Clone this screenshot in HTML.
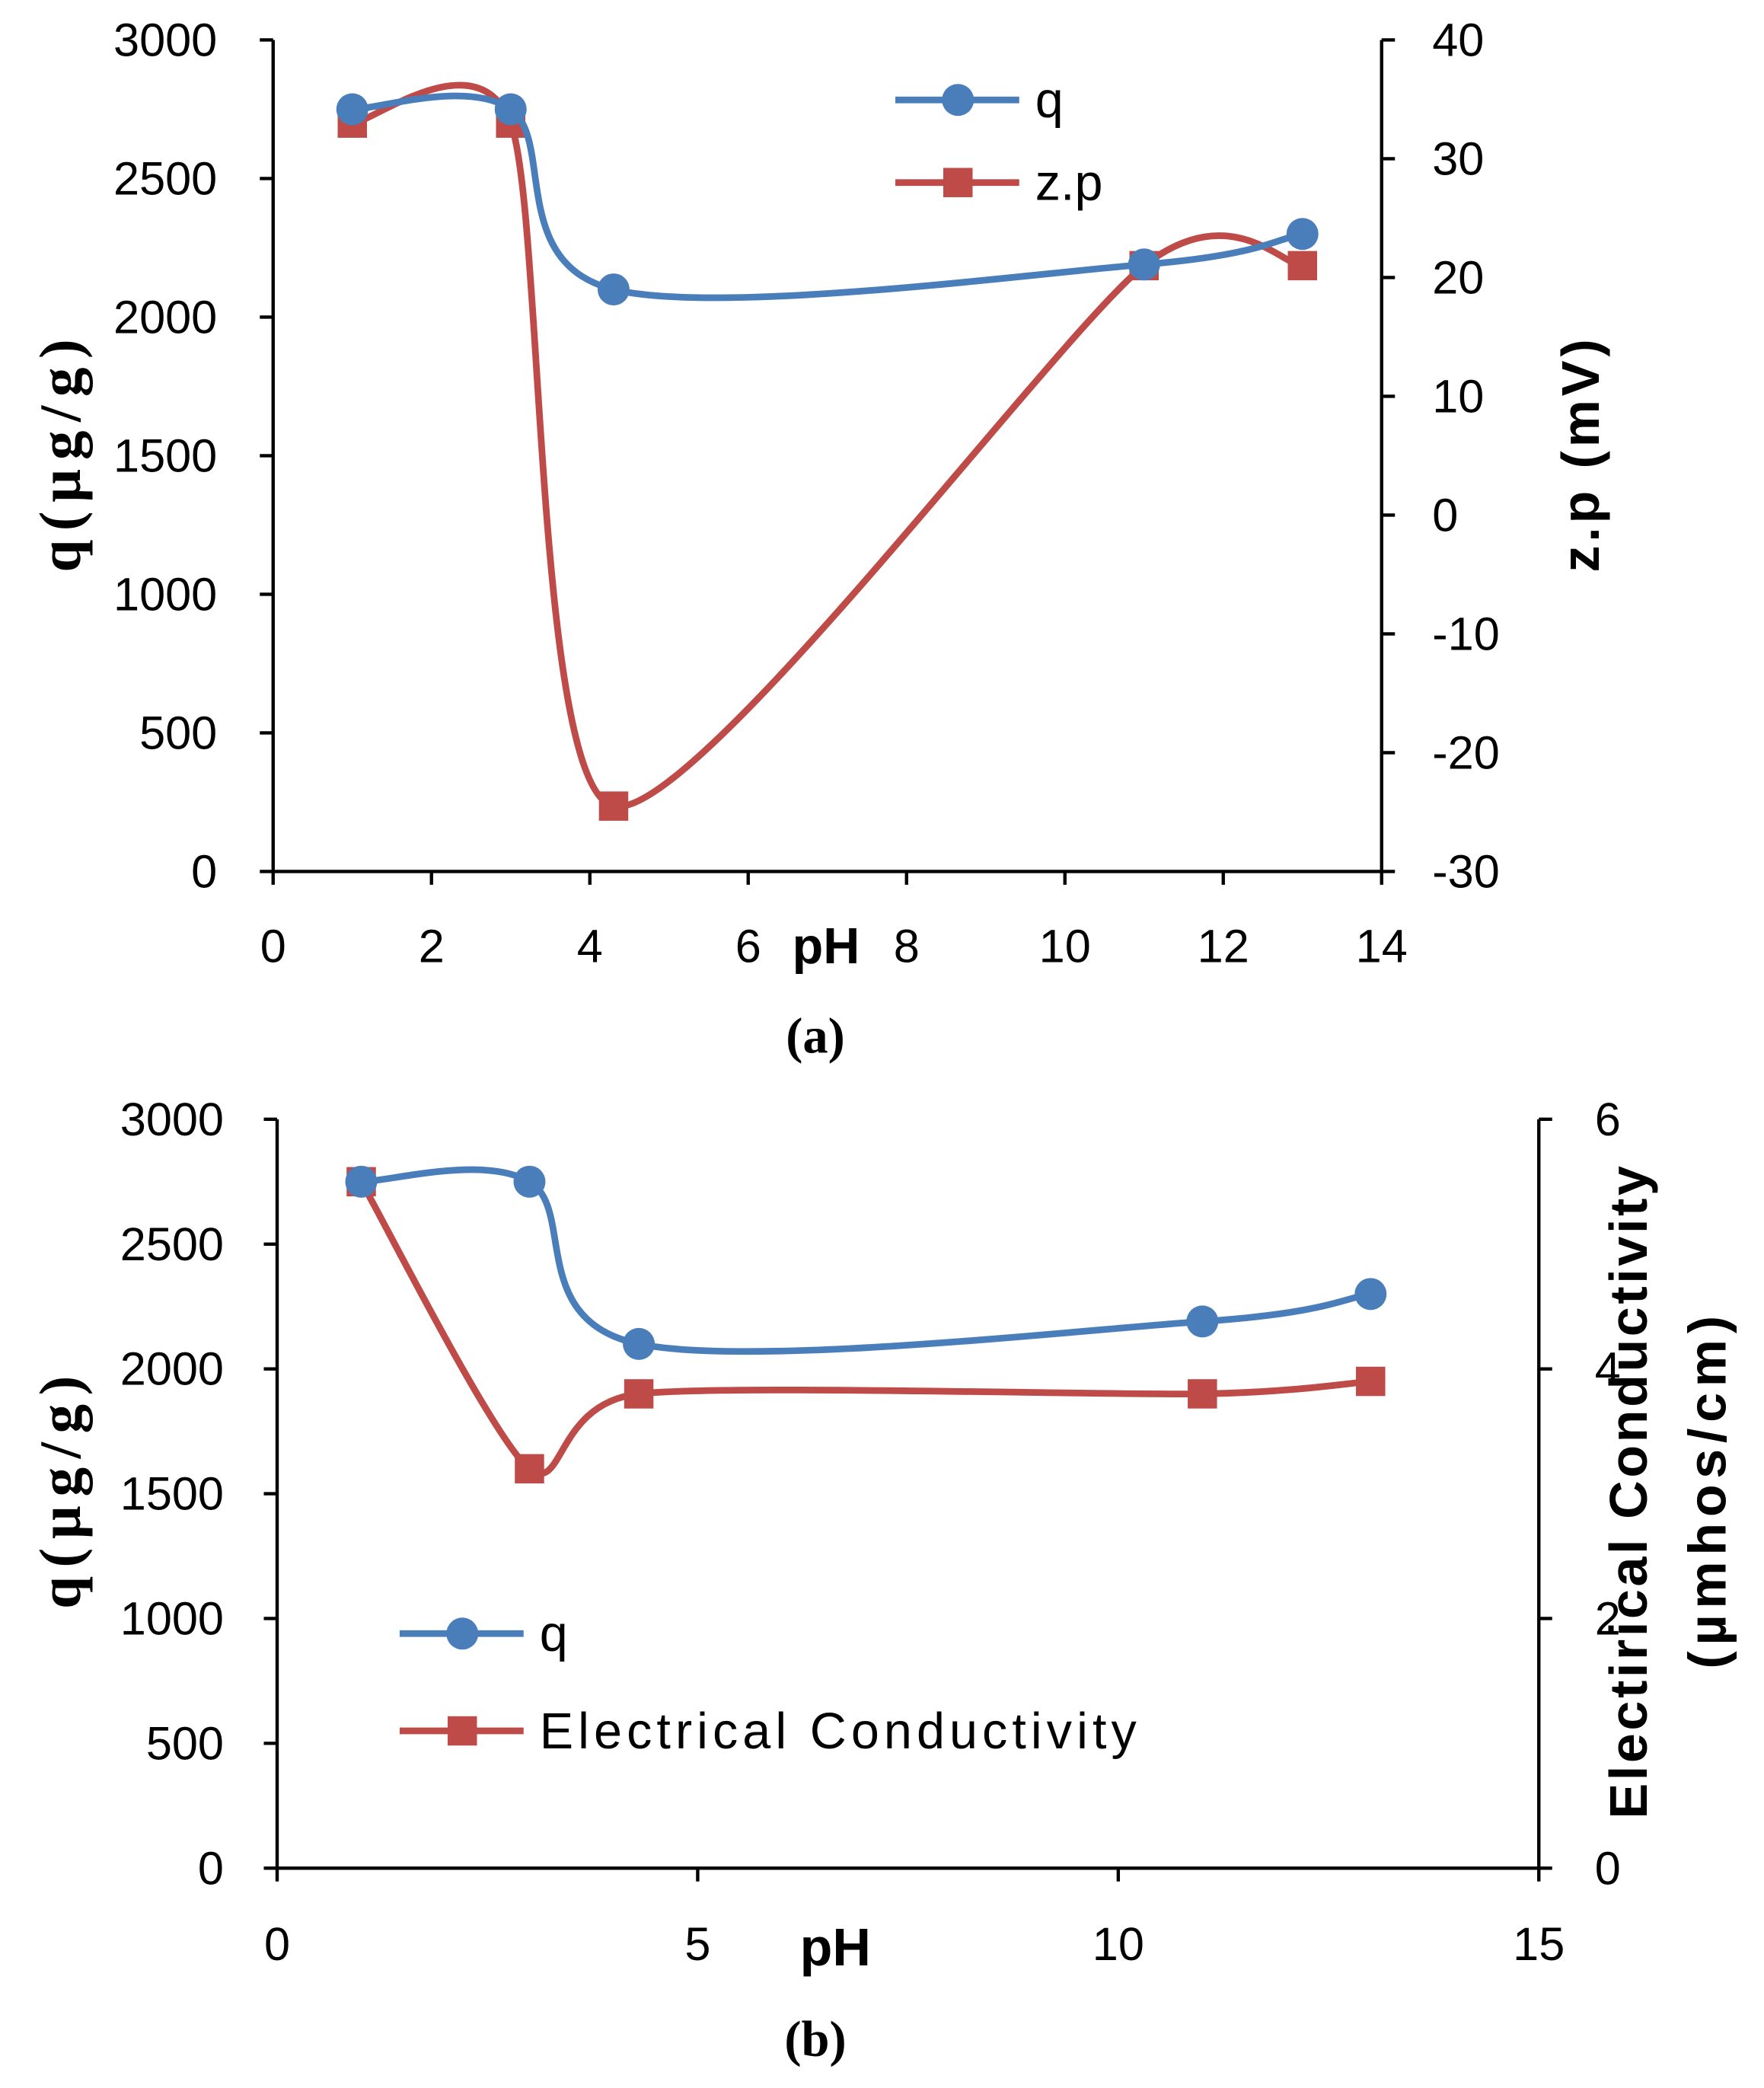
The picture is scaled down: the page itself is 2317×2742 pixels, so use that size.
<!DOCTYPE html>
<html><head><meta charset="utf-8"><style>
html,body{margin:0;padding:0;background:#fff;}
svg{display:block;}
text{font-family:"Liberation Sans",sans-serif;fill:#000;}
</style></head><body>
<svg id="c" width="2317" height="2742" viewBox="0 0 1324 1567" preserveAspectRatio="none" xmlns="http://www.w3.org/2000/svg"></svg>
<script>
const pH = [1, 3, 4.3, 11, 13];
const qVals = [2750, 2750, 2100, 2190, 2300];
const zpVals = [33, 33, -24.5, 21, 21];
const ecVals = [5.5, 3.2, 3.8, 3.8, 3.9];
const xTicksA = [0, 2, 4, 6, 8, 10, 12, 14];
const yTicksL = [0, 500, 1000, 1500, 2000, 2500, 3000];
const yTicksRA = [-30, -20, -10, 0, 10, 20, 30, 40];
const xTicksB = [0, 5, 10, 15];
const yTicksRB = [0, 2, 4, 6];

const svg = document.getElementById('c');
const NS = 'http://www.w3.org/2000/svg';
function el(tag, attrs, parent){ const e=document.createElementNS(NS,tag); for(const k in attrs) e.setAttribute(k,attrs[k]); (parent||svg).appendChild(e); return e; }
function lin(d0,d1,r0,r1){ return v=>r0+(v-d0)/(d1-d0)*(r1-r0); }
function smooth(pts,k){
  let d='M'+pts[0][0]+','+pts[0][1];
  for(let i=0;i<pts.length-1;i++){
    const p0=pts[Math.max(0,i-1)],p1=pts[i],p2=pts[i+1],p3=pts[Math.min(pts.length-1,i+2)];
    const c1=[p1[0]+(p2[0]-p0[0])*k,p1[1]+(p2[1]-p0[1])*k];
    const c2=[p2[0]-(p3[0]-p1[0])*k,p2[1]-(p3[1]-p1[1])*k];
    d+=' C'+c1+' '+c2+' '+p2;
  }
  return d;
}
const BLUE='#4a7ebb', RED='#be4b48';
const SERIF='font-family:"Liberation Serif",serif;';
function txt(s,x,y,size,anchor,extra,name){
  const t=el('text',Object.assign({x:x,y:y,'font-size':size,'text-anchor':anchor||'middle'},extra||{}));
  t.textContent=s;
  
  
  return t;
}
function marker(type,x,y,color,name){
  let m;
  if(type==='c') m=el('circle',{cx:x,cy:y,r:12,fill:color});
  else m=el('rect',{x:x-11,y:y-11,width:22,height:22,fill:color});
  
  
}
function series(xs,ys,X,Y,color,type,name,k){
  const pts=xs.map((v,i)=>[X(v),Y(ys[i])]);
  const p=el('path',{d:smooth(pts,k),fill:'none',stroke:color,'stroke-width':5});
  
  
  pts.forEach(q=>marker(type,q[0],q[1],color,name+'-point'));
}
function axisLine(x1,y1,x2,y2,name){
  const l=el('line',{x1:x1,y1:y1,x2:x2,y2:y2,stroke:'#000','stroke-width':2.5});
  
  
}
function legend(x,y,color,type,label,name,len){
  const l=el('line',{x1:x,y1:y,x2:x+93,y2:y,stroke:color,'stroke-width':5});
  
  
  marker(type,x+47,y,color,name+'-marker');
  const ex={}; if(len) ex.textLength=len;
  txt(label,x+105,y+13,38,'start',ex,name+'-label');
}
const TF=35;

// ---------- Chart A ----------
{
  const X=lin(0,14,205,1037), Y=lin(0,3000,654,30), YR=lin(-30,40,654,30);
  axisLine(205,30,205,654,'y-axis-left-a');
  axisLine(1037,30,1037,654,'y-axis-right-a');
  axisLine(205,654,1037,654,'x-axis-a');
  xTicksA.forEach(v=>{axisLine(X(v),654,X(v),664,'x-tick-a');txt(String(v),X(v),722,TF,'middle',{},'x-tick-label-a');});
  yTicksL.forEach(v=>{axisLine(195,Y(v),205,Y(v),'y-tick-a');txt(String(v),163,Y(v)+12,TF,'end',{},'y-tick-label-a');});
  yTicksRA.forEach(v=>{axisLine(1037,YR(v),1047,YR(v),'y-right-tick-a');txt(String(v),1075,YR(v)+12,TF,'start',{},'y-right-tick-label-a');});
  txt('pH',620,723,38,'middle',{'font-weight':'bold'},'x-axis-title-a');
  txt('q(µg/g)',0,0,44,'middle',{'font-weight':'bold',style:SERIF,textLength:175,transform:'translate(60,342) rotate(-90)'},'y-axis-title-a');
  txt('z.p (mV)',0,0,40,'middle',{'font-weight':'bold',textLength:175,transform:'translate(1200,342) rotate(-90)'},'y-right-axis-title-a');
  txt('(a)',612,790,38,'middle',{style:SERIF,'font-weight':'bold'},'caption-a');
  series(pH,zpVals,X,YR,RED,'s','zp-series',1/8);
  series(pH,qVals,X,Y,BLUE,'c','q-series-a',1/6);
  legend(672,75,BLUE,'c','q','legend-q-a');
  legend(672,137,RED,'s','z.p','legend-zp');
}
// ---------- Chart B ----------
{
  const X=lin(0,15,208,1155), Y=lin(0,3000,1402,840), YR=lin(0,6,1402,840);
  axisLine(208,840,208,1402,'y-axis-left-b');
  axisLine(1155,840,1155,1402,'y-axis-right-b');
  axisLine(208,1402,1155,1402,'x-axis-b');
  xTicksB.forEach(v=>{axisLine(X(v),1402,X(v),1412,'x-tick-b');txt(String(v),X(v),1471,TF,'middle',{},'x-tick-label-b');});
  yTicksL.forEach(v=>{axisLine(198,Y(v),208,Y(v),'y-tick-b');txt(String(v),168,Y(v)+12,TF,'end',{},'y-tick-label-b');});
  yTicksRB.forEach(v=>{axisLine(1155,YR(v),1165,YR(v),'y-right-tick-b');txt(String(v),1197,YR(v)+12,TF,'start',{},'y-right-tick-label-b');});
  txt('pH',627,1475,40,'middle',{'font-weight':'bold'},'x-axis-title-b');
  txt('q(µg/g)',0,0,44,'middle',{'font-weight':'bold',style:SERIF,textLength:175,transform:'translate(60,1120) rotate(-90)'},'y-axis-title-b');
  txt('Electirical Conductivity',0,0,40,'middle',{'font-weight':'bold',textLength:490,transform:'translate(1236,1120) rotate(-90)'},'y-right-axis-title-b');
  txt('(µmhos/cm)',0,0,40,'middle',{'font-weight':'bold',textLength:265,transform:'translate(1295,1120) rotate(-90)'},'y-right-axis-unit-b');
  txt('(b)',612,1543,38,'middle',{style:SERIF,'font-weight':'bold'},'caption-b');
  series(pH,ecVals,X,YR,RED,'s','ec-series',1/8);
  series(pH,qVals,X,Y,BLUE,'c','q-series-b',1/6);
  legend(300,1226,BLUE,'c','q','legend-q-b');
  legend(300,1299,RED,'s','Electrical Conductivity','legend-ec',448);
}
</script>
</body></html>
